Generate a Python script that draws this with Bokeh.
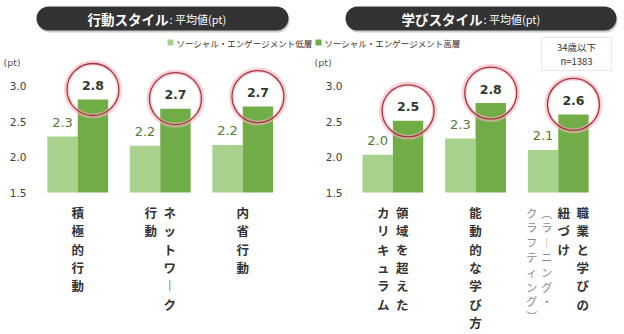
from bokeh.plotting import figure
from bokeh.models import (Range1d, FixedTicker, PrintfTickFormatter, BoxAnnotation,
                          Label, ColumnDataSource)
from bokeh.layouts import row
from bokeh.embed import file_html
from bokeh.resources import INLINE
from bokeh.core.properties import value

# ---------------- data ----------------
y_ticks = [1.5, 2.0, 2.5, 3.0]
series_names = ["ソーシャル・エンゲージメント低層", "ソーシャル・エンゲージメント高層"]
left_title = "行動スタイル"
right_title = "学びスタイル"
title_unit = ": 平均値(pt)"
unit_label = "(pt)"
sample_note = ["34歳以下", "n=1383"]

left_cats = ["積極的行動", "ネットワーク行動", "内省行動"]
left_cat_columns = [["積極的行動"], ["ネットワーク", "行動"], ["内省行動"]]
left_note_columns = [[], [], []]
left_low = [2.29, 2.16, 2.17]
left_high = [2.81, 2.68, 2.71]

right_cats = ["領域を超えたカリキュラム", "能動的な学び方",
              "職業と学びの紐づけ（ラーニング・クラフティング）"]
right_cat_columns = [["領域を超えた", "カリキュラム"], ["能動的な学び方"], ["職業と学びの", "紐づけ"]]
right_note_columns = [[], [], ["（ラーニング・", "クラフティング）"]]
right_low = [2.03, 2.26, 2.10]
right_high = [2.51, 2.76, 2.60]

# ---------------- style ----------------
C_LOW = "#a9d18e"
C_HIGH = "#70ad47"
C_LOW_TXT = "#4f7d33"
C_HIGH_TXT = "#2f3a2a"
JP = "Noto Sans CJK JP"
NUM = "DejaVu Sans"
W, H = 312, 334
PXU = 71.0        # px per y unit
BASE_PX = 192.0   # pixel row of y = 1.5
VERT = {"ー": "︱", "（": "︵", "）": "︶"}


def px2y(py):
    return 1.5 + (BASE_PX - py) / PXU


def make_panel(page_off, axis_px, group_px, cat_cols, note_cols, low, high,
               title, pill, title_split, tick_standoff, pt_px, legend_px, legend_name,
               note_box=None):
    fl_page = page_off + axis_px

    def px2x(px):
        return (px - fl_page) / group_px

    p = figure(width=W, height=H, output_backend="svg", toolbar_location=None,
               x_axis_location=None, y_axis_location="left",
               x_range=Range1d(px2x(page_off), px2x(page_off + W)),
               y_range=Range1d(px2y(H), px2y(0)),
               min_border_left=0, min_border_right=0,
               min_border_top=0, min_border_bottom=0)
    p.outline_line_color = None
    p.grid.visible = False
    p.background_fill_color = "white"
    p.border_fill_color = "white"
    ax = p.yaxis[0]
    ax.fixed_location = 0
    ax.ticker = FixedTicker(ticks=y_ticks)
    ax.formatter = PrintfTickFormatter(format="%.1f")
    ax.axis_line_color = None
    ax.major_tick_line_color = None
    ax.minor_tick_line_color = None
    ax.major_tick_out = 0
    ax.major_tick_in = 0
    ax.major_label_standoff = tick_standoff
    ax.major_label_text_font = NUM
    ax.major_label_text_font_size = "10.5px"
    ax.major_label_text_color = "#404040"

    n = len(low)
    bw = 30.4 / group_px
    xc = [i + 0.5 for i in range(n)]
    src = ColumnDataSource(dict(
        xl=[x - bw / 2 for x in xc], xh=[x + bw / 2 for x in xc],
        low=low, high=high,
        low_lab=["%.1f" % v for v in low], high_lab=["%.1f" % v for v in high],
        low_ty=[v + 14 / PXU for v in low], high_ty=[v + 14 / PXU for v in high],
        circ_y=[v + 10 / PXU for v in high],
    ))
    p.vbar(x="xl", top="low", bottom=1.5, width=bw, source=src, fill_color=C_LOW, line_color=None)
    p.vbar(x="xh", top="high", bottom=1.5, width=bw, source=src, fill_color=C_HIGH, line_color=None)
    p.text(x="xl", y="low_ty", text="low_lab", source=src, text_font=value(NUM),
           text_font_size="13px", text_color=C_LOW_TXT, text_align="center", text_baseline="middle")
    p.text(x="xh", y="high_ty", text="high_lab", source=src, text_font=value(NUM),
           text_font_size="12.5px", text_font_style="bold", text_color=C_HIGH_TXT,
           text_align="center", text_baseline="middle")
    p.scatter(x="xh", y="circ_y", source=src, marker="circle", size=53, fill_color=None,
              line_color="#f2b3bb", line_width=5, line_alpha=0.6)
    p.scatter(x="xh", y="circ_y", source=src, marker="circle", size=52, fill_color=None,
              line_color="#a83340", line_width=1.3)

    # vertical category labels
    bold = dict(x=[], y=[], t=[])
    light = dict(x=[], y=[], t=[])
    for i in range(n):
        cx = fl_page + (i + 0.5) * group_px
        cols = [(c, True) for c in cat_cols[i]] + [(c, False) for c in note_cols[i]]
        total = sum(19 if b else 15 for _, b in cols)
        right = cx + total / 2
        for c, b in cols:
            w = 19 if b else 15
            ccx = right - w / 2
            right -= w
            pitch = 18.3 if b else 14.8
            d = bold if b else light
            for k, ch in enumerate(c):
                d["x"].append(px2x(ccx))
                d["y"].append(px2y(212 + k * pitch))
                d["t"].append(VERT.get(ch, ch))
    p.text(x="x", y="y", text="t", source=ColumnDataSource(bold), text_font=value(JP),
           text_font_size="12.5px", text_font_style="bold", text_color="#333333",
           text_align="center", text_baseline="middle")
    if light["t"]:
        p.text(x="x", y="y", text="t", source=ColumnDataSource(light), text_font=value(JP),
               text_font_size="11px", text_color="#8a8a8a",
               text_align="center", text_baseline="middle")

    # title pill
    p.add_layout(BoxAnnotation(left=px2x(pill[0] + 1), right=px2x(pill[1] + 1),
                               top=px2y(pill[2] + 2), bottom=px2y(pill[3] + 2),
                               border_radius=12, fill_color="#9a9a9a", fill_alpha=0.5,
                               line_color=None))
    p.add_layout(BoxAnnotation(left=px2x(pill[0]), right=px2x(pill[1]),
                               top=px2y(pill[2]), bottom=px2y(pill[3]),
                               border_radius=12, fill_color="#333333", fill_alpha=1,
                               line_color=None))
    ty = px2y((pill[2] + pill[3]) / 2)
    p.add_layout(Label(x=px2x(title_split), y=ty, text=title, text_font=JP,
                       text_font_size="13.5px", text_font_style="bold", text_color="white",
                       text_align="right", text_baseline="middle"))
    p.add_layout(Label(x=px2x(title_split + 1), y=ty, text=title_unit, text_font=JP,
                       text_font_size="11px", text_color="white",
                       text_align="left", text_baseline="middle"))

    # unit
    p.add_layout(Label(x=px2x(pt_px), y=px2y(62), text=unit_label, text_font=NUM,
                       text_font_size="9.5px", text_color="#555555",
                       text_align="left", text_baseline="middle"))

    # legend item
    sq_x, txt_x, color = legend_px
    p.scatter(x=[px2x(sq_x)], y=[px2y(42)], marker="square", size=6, fill_color=color, line_color=None)
    p.add_layout(Label(x=px2x(txt_x), y=px2y(42), text=legend_name, text_font=JP,
                       text_font_size="8.5px", text_color="#333333",
                       text_align="left", text_baseline="middle"))

    if note_box:
        l, r, t, b = note_box
        p.add_layout(BoxAnnotation(left=px2x(l), right=px2x(r), top=px2y(t), bottom=px2y(b),
                                   fill_color="white", fill_alpha=1, line_color="#b0b0b0",
                                   line_width=1))
        cxm = px2x((l + r) / 2)
        p.add_layout(Label(x=cxm, y=px2y(46), text=sample_note[0], text_font=JP,
                           text_font_size="9.5px", text_color="#333333",
                           text_align="center", text_baseline="middle"))
        p.add_layout(Label(x=cxm, y=px2y(60), text=sample_note[1], text_font=JP,
                           text_font_size="9.5px", text_color="#333333",
                           text_align="center", text_baseline="middle"))
    return p


p1 = make_panel(0, 36, 82.5, left_cat_columns, left_note_columns, left_low, left_high,
                left_title, (36, 288, 6, 30), 168, 10, 3, (170, 176, C_LOW), series_names[0])
p2 = make_panel(312, 39, 82.7, right_cat_columns, right_note_columns, right_low, right_high,
                right_title, (345, 616, 6, 30), 482, 9, 314, (318, 324, C_HIGH), series_names[1],
                note_box=(541, 611, 37, 70))

layout = row(p1, p2)
open("out.html", "w").write(file_html(layout, INLINE))
